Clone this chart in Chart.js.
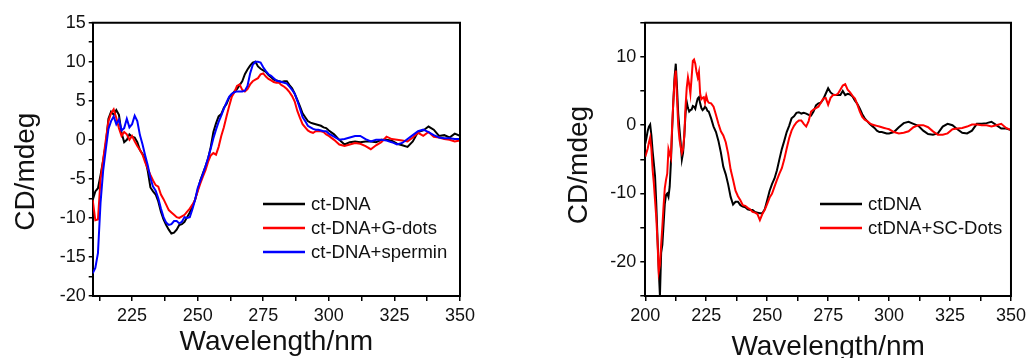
<!DOCTYPE html>
<html>
<head>
<meta charset="utf-8">
<script src="https://cdn.jsdelivr.net/npm/chart.js@4.4.1/dist/chart.umd.min.js"></script>
<style>
html,body{margin:0;padding:0;background:#fff;}
#wrap{position:relative;width:1030px;height:358px;overflow:hidden;}
canvas{position:absolute;top:0;}
#c1{left:0;}
#c2{left:515px;}
</style>
</head>
<body>
<div id="wrap">
<canvas id="c1" width="515" height="358"></canvas>
<canvas id="c2" width="515" height="358"></canvas>
</div>
<script>
// ---------- Left panel data ----------
const leftWl = [210,211,212,213,214,215,216,217,218,219,220,221,222,223,224,225,226,227,228,229,
230,231,232,233,234,235,236,237,238,239,240,241,242,243,244,245,246,247,248,249,
250,251,252,253,254,255,256,257,258,259,260,261,262,263,264,265,266,267,268,269,
270,271,272,273,274,275,276,277,278,279,280,281,282,283,284,285,286,287,288,289,
290,291,292,293,294,295,296,297,298,299,300,
302,304,306,308,310,312,314,316,318,320,322,324,326,328,330,332,334,336,338,340,342,344,346,348,350];

const leftCtDNA = [-7.7,-6.6,-6.2,-4.5,-2.6,-0.5,2.7,3.6,3.2,3.8,3.2,0.9,-0.3,0,0.7,0.4,0.3,-0.3,-1.3,-1.8,
-2.5,-4.0,-6.1,-6.6,-7.0,-7.9,-9.2,-10.2,-10.9,-11.5,-12.0,-11.9,-11.5,-10.9,-10.8,-10.5,-9.9,-9.3,-8.6,-7.7,
-6.5,-5.2,-4.3,-3.4,-2.4,-0.9,1.0,2.1,3.0,3.3,4.1,4.6,5.4,5.8,6.2,6.5,7.0,7.5,8.4,9.0,
9.5,9.9,10.0,9.4,9.1,8.9,8.7,8.3,8.0,7.7,7.6,7.5,7.4,7.5,7.5,7.0,6.6,5.9,5.1,4.3,
3.4,2.9,2.4,2.2,2.1,2.0,1.9,1.8,1.6,1.5,1.2,
0.7,0,-0.6,-0.3,-0.2,-0.3,-0.2,-0.2,-0.3,0,0,-0.1,-0.5,-0.7,-0.9,-0.2,1.0,1.2,1.7,1.3,0.5,0.6,0.3,0.8,0.5];

const leftGdots = [-7.7,-10.3,-10.2,-5.0,-2.5,0,2.4,3.4,3.9,2.8,1.5,0.5,1.0,0.7,0,0.5,-0.2,-0.8,-1.3,-1.9,
-2.9,-3.7,-4.5,-5.2,-5.8,-6.0,-7.0,-7.6,-8.3,-9.0,-9.3,-9.6,-9.9,-10.0,-9.8,-9.6,-9.2,-8.8,-8.3,-7.7,
-6.6,-5.6,-4.7,-3.9,-2.8,-2.0,-1.7,-1.9,-0.9,0.5,1.6,3.0,4.3,5.5,6.1,6.9,7.1,6.4,6.2,6.5,
7.1,7.5,7.7,7.9,8.4,8.5,8.1,7.8,7.6,7.4,7.3,7.3,7.0,6.8,6.5,6.1,5.6,4.9,3.7,2.8,
2.0,1.6,1.2,1.0,0.9,1.1,1.1,1.1,1.0,0.7,0.5,
0,-0.6,-0.8,-0.6,-0.4,-0.5,-0.8,-1.2,-0.7,-0.3,0.4,0.1,0,-0.1,-0.2,0.3,0.9,0.5,1.0,0.4,0.3,0.1,0,-0.2,-0.1];

const leftSpermin = [-17.1,-16.4,-14.5,-8.0,-3.9,-1.2,1.4,2.4,3.0,2.0,2.6,1.2,1.5,2.7,1.6,2.0,3.1,2.4,0.6,-0.6,
-2.0,-3.3,-4.9,-6.0,-6.5,-7.5,-8.8,-9.9,-10.6,-10.9,-10.8,-10.4,-10.4,-10.7,-10.5,-9.9,-10.0,-9.9,-8.9,-7.7,
-6.2,-5.3,-4.4,-3.4,-2.3,-1.1,0.2,1.3,2.3,3.1,4.0,4.8,5.5,5.9,6.1,6.2,6.2,6.2,6.3,6.9,
8.5,9.6,10.0,10.0,9.9,9.3,8.8,8.4,8.2,7.9,7.6,7.5,7.4,7.3,7.2,6.8,6.4,5.9,5.0,4.0,
2.9,2.4,1.8,1.6,1.4,1.3,1.3,1.2,1.1,1.1,0.8,
0.4,0,0.1,0.3,0.5,0.5,0.1,-0.2,0,0,-0.1,-0.3,-0.6,-0.4,0.1,0.6,1.1,1.3,1.0,0.6,0.3,0.2,0.2,0.1,0.1];

const leftXTicks = [212.5,225,237.5,250,262.5,275,287.5,300,312.5,325,337.5,350];
const leftYTicks = [-20,-17.5,-15,-12.5,-10,-7.5,-5,-2.5,0,2.5,5,7.5,10,12.5,15];
const leftLabels = ['ct-DNA','ct-DNA+G-dots','ct-DNA+spermin'];

// ---------- Right panel data ----------
const rightWl = [200,200.5,201,201.5,202,202.5,203,203.5,204,204.5,205,205.5,206,206.5,207,207.5,208,208.5,209,209.5,
210,210.5,211,211.5,212,212.5,213,213.5,214,214.5,215,215.5,216,216.5,217,217.5,218,218.5,219,219.5,
220,220.5,221,221.5,222,222.5,223,223.5,224,224.5,225,225.5,226,
227,228,229,230,231,232,233,234,235,236,237,238,239,240,241,242,243,244,245,246,
247,248,249,250,251,252,253,254,255,256,257,258,259,260,261,262,263,264,265,266,
267,268,269,270,271,272,273,274,275,276,277,278,279,280,281,282,283,284,285,286,
287,288,289,290,291,292,293,294,295,296,297,298,299,300,
302,304,306,308,310,312,314,316,318,320,322,324,326,328,330,332,334,336,338,340,342,344,346,348,350];

const rightCtDNA = [-2.7,-1.8,-0.8,-0.2,0.1,-1.5,-3.8,-5.6,-7.5,-11.5,-16.5,-21,-25,-18.7,-17.5,-14.5,-11.5,-10.2,-10,-10.5,
-9,-5.5,-0.7,3.5,7,9.0,5.5,1.7,-0.5,-2.5,-5.0,-4.0,-1.5,1.7,3.4,2.5,2.0,2.2,2.3,2.8,
2.7,2.4,3.2,3.9,4.1,3.2,2.5,2.2,2.4,2.7,2.5,2.1,2.0,
1.0,-0.2,-1.0,-2.3,-4.0,-6.1,-7.2,-8.7,-10.5,-11.6,-11.2,-11.2,-11.7,-11.9,-12.0,-12.3,-12.4,-12.4,-12.7,-12.8,
-12.9,-12.9,-12.3,-11.0,-9.6,-8.6,-7.8,-6.6,-5.0,-3.5,-2.3,-1.0,-0.1,1.0,1.3,1.8,1.9,1.7,1.8,1.7,
1.5,1.4,2.0,2.9,3.2,3.3,3.8,4.6,5.4,4.8,4.5,4.4,4.4,4.4,5.0,4.4,4.6,4.5,4.2,3.6,
3.1,2.4,1.6,1.0,0.6,0.2,-0.1,-0.4,-0.8,-1.0,-1.0,-1.1,-1.2,-1.2,
-1.0,-0.3,0.3,0.5,0.2,-0.1,-0.8,-1.3,-1.4,-1.2,-0.2,0.2,0,-0.6,-1.1,-1.2,-0.8,0.2,0.2,0.3,0.5,0,-0.5,-0.5,-0.7];

const rightSCDots = [-4.6,-4.0,-3.4,-2.5,-1.8,-3.5,-6.5,-8.5,-11,-13.5,-17,-21.5,-20.5,-17.5,-14.8,-11.8,-9.2,-8,-7.1,-3.5,
-4.2,-4.8,-0.2,3.5,6.5,8.0,4.0,0,-2.0,-3.2,-4.1,-3.5,-1.5,2.7,5.5,7.0,6.0,4.6,7.0,9.4,
9.6,9.0,7.8,7.0,7.8,4.6,3.8,4.0,4.1,3.3,4.3,3.6,3.3,
3.2,2.7,1.5,0.2,-0.9,-1.5,-2.5,-4.2,-6.5,-8.0,-9.6,-10.4,-11.0,-11.7,-11.8,-12.1,-12.3,-12.7,-12.8,-13.0,
-13.9,-13.0,-12.4,-11.5,-10.6,-10.0,-9.0,-8.0,-7.1,-6.3,-5.0,-3.4,-1.9,-0.8,-0.1,0.4,0.7,0.7,0.2,-0.2,
0.6,2.0,2.3,2.5,2.7,3.3,3.9,4.0,3.0,4.0,4.4,4.4,4.6,5.2,5.8,6.0,5.2,4.8,4.3,3.9,
3.0,2.0,1.2,0.8,0.6,0.3,0.1,0,-0.1,-0.2,-0.3,-0.4,-0.5,-0.6,
-1.0,-1.2,-1.1,-0.9,-0.3,0,0,-0.3,-0.9,-1.4,-1.4,-1.2,-0.6,-0.5,-0.4,-0.2,0.1,0.1,0,0,-0.2,0,0.2,-0.4,-0.7];

const rightXTicks = [200,212.5,225,237.5,250,262.5,275,287.5,300,312.5,325,337.5,350];
const rightYTicks = [-25,-20,-15,-10,-5,0,5,10,15];
const rightLabels = ['ctDNA','ctDNA+SC-Dots'];

// ---------- helpers ----------
const FONT = "'Liberation Sans', Arial, sans-serif";
const TXT = '#111';

function pts(xs, ys){ return xs.map((x,i)=>({x:x, y:ys[i]})); }

function decorPlugin(L){
  return {
    id:'decor',
    afterDraw(chart){
      const ctx = chart.ctx, a = chart.chartArea;
      ctx.save();
      // frame top & right
      ctx.strokeStyle = '#000'; ctx.lineWidth = 2;
      ctx.beginPath();
      ctx.moveTo(a.left-1, a.top); ctx.lineTo(a.right, a.top); ctx.lineTo(a.right, a.bottom+1);
      ctx.stroke();
      // axis titles
      ctx.fillStyle = TXT;
      ctx.font = '28px ' + FONT;
      ctx.textAlign = 'center'; ctx.textBaseline = 'alphabetic';
      ctx.fillText(L.xTitle, (a.left+a.right)/2, L.xTitleY);
      ctx.save();
      ctx.translate(L.yTitleX, L.yTitleY);
      ctx.rotate(-Math.PI/2);
      ctx.fillText(L.yTitle, 0, 0);
      ctx.restore();
      // legend
      ctx.font = '18.5px ' + FONT;
      ctx.textAlign = 'left'; ctx.textBaseline = 'middle';
      chart.data.datasets.forEach((ds,i)=>{
        const y = L.legY + i*L.legGap;
        ctx.strokeStyle = ds.borderColor; ctx.lineWidth = 2.5;
        ctx.beginPath(); ctx.moveTo(L.legX, y); ctx.lineTo(L.legX+L.legLen, y); ctx.stroke();
        ctx.fillStyle = TXT;
        ctx.fillText(ds.label, L.legX+L.legLen+6, y+1);
      });
      ctx.restore();
    }
  };
}

function makeChart(id, datasets, xr, yr, xTicks, yTicks, xMod, yMod, L){
  return new Chart(document.getElementById(id), {
    type:'line',
    data:{datasets:datasets},
    options:{
      responsive:false, animation:false, devicePixelRatio:1,
      layout:{padding:{left:0, top:L.top, right:L.right, bottom:0}},
      plugins:{legend:{display:false}, tooltip:{enabled:false}},
      elements:{point:{radius:0}, line:{tension:0, borderWidth:2}},
      scales:{
        x:{type:'linear', min:xr[0], max:xr[1],
          afterBuildTicks(s){ s.ticks = xTicks.map(v=>({value:v})); },
          afterFit(s){ s.height = L.xH; },
          grid:{drawOnChartArea:false, drawTicks:true, tickLength:5, color:'#000', lineWidth:1.5},
          border:{display:true, color:'#000', width:2},
          ticks:{autoSkip:false, maxRotation:0, padding:4, color:TXT, font:{family:FONT, size:18},
            callback:(v)=> (v % xMod === 0 ? String(v) : '')}
        },
        y:{type:'linear', min:yr[0], max:yr[1],
          afterBuildTicks(s){ s.ticks = yTicks.map(v=>({value:v})); },
          afterFit(s){ s.width = L.yW; },
          grid:{drawOnChartArea:false, drawTicks:true, tickLength:L.yTick, color:'#000', lineWidth:1.5},
          border:{display:true, color:'#000', width:2},
          ticks:{autoSkip:false, padding:L.yPad, color:TXT, font:{family:FONT, size:18},
            callback:(v)=> (v % yMod === 0 ? String(v) : '')}
        }
      }
    },
    plugins:[decorPlugin(L)]
  });
}

makeChart('c1', [
  {label:leftLabels[0], data:pts(leftWl,leftCtDNA), borderColor:'#000000', order:3},
  {label:leftLabels[1], data:pts(leftWl,leftGdots), borderColor:'#ff0000', order:2},
  {label:leftLabels[2], data:pts(leftWl,leftSpermin), borderColor:'#0000ff', order:1}
], [210,350], [-20,15], leftXTicks, leftYTicks, 25, 5,
{top:22.7, right:55, xH:62, yW:92.7, yTick:4, yPad:3,
 xTitle:'Wavelength/nm', xTitleY:350, yTitle:'CD/mdeg', yTitleX:33.5, yTitleY:171.7,
 legX:263, legY:204, legGap:24, legLen:42});

makeChart('c2', [
  {label:rightLabels[0], data:pts(rightWl,rightCtDNA), borderColor:'#000000', order:2},
  {label:rightLabels[1], data:pts(rightWl,rightSCDots), borderColor:'#ff0000', order:1}
], [200,350], [-25,15], rightXTicks, rightYTicks, 25, 10,
{top:22.7, right:16.3, xH:62, yW:130.3, yTick:5, yPad:4,
 xTitle:'Wavelength/nm', xTitleY:355, yTitle:'CD/mdeg', yTitleX:586.7-515, yTitleY:165,
 legX:820-515, legY:204, legGap:24, legLen:42});
</script>
</body>
</html>
